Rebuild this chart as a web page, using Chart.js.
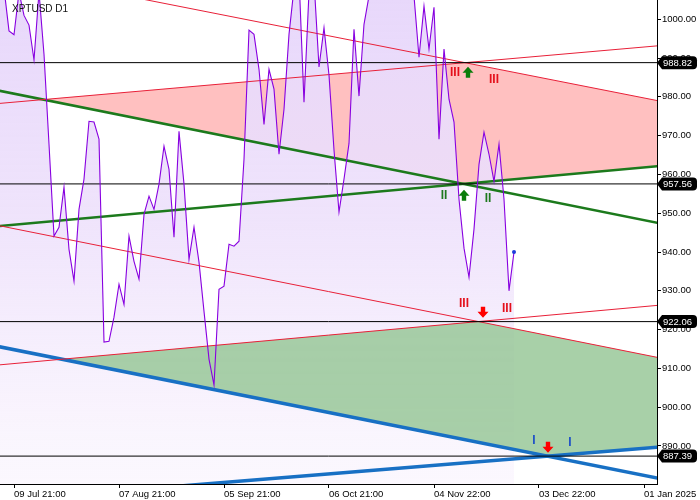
<!DOCTYPE html>
<html>
<head>
<meta charset="utf-8">
<script src="https://cdn.jsdelivr.net/npm/chart.js"></script>
<style>
  body { margin: 0; background: #fff; }
</style>
</head>
<body>
<canvas id="xpt" width="700" height="500"></canvas>
<script>
// XPTUSD D1 closes, one per bar. bar 0 = 09 Jul, bar 100 = last bar
var firstBar = -3;
var closes = [
  1012, 1008, 997, 996, 1007, 1001, 998.5, 989.5, 1007, 991,
  967.8, 944.1, 946.4, 956.7, 940.7, 932.5, 951.0, 958.8, 973.7, 973.5,
  969.1, 916.8, 917.0, 923.2, 931.7, 926.5, 944.1, 937.6, 933.0, 949.7,
  954.4, 951.0, 957.5, 967.3, 961.3, 943.8, 971.1, 957.5, 938.1, 946.4,
  937.4, 924.7, 912.4, 905.7, 930.4, 931.2, 942.0, 941.5, 942.8, 963.9,
  997.2, 996.1, 987.1, 972.9, 987.1, 982.0, 965.2, 976.8, 996.1, 1008,
  1011, 978.6, 1007, 1010, 987.7, 997.8, 985.6, 966.3, 950.3, 958.8,
  968.0, 997.4, 980.2, 998.7, 1006, 1010, 1013, 1016, 1012, 1015,
  1011, 1014, 1009, 1006, 990.2, 1003.4, 992.3, 1003.1, 969.1, 992.3,
  979.4, 973.5, 953.6, 941.0, 933.5, 945.9, 962.6, 970.9, 965.2, 958.2,
  967.8, 953.6, 930.0, 940.0
];

// date labels on the time axis
var tickBars = [0, 21, 42, 63, 84, 105, 126];
var tickLabels = ['09 Jul 21:00', '07 Aug 21:00', '05 Sep 21:00', '06 Oct 21:00', '04 Nov 22:00', '03 Dec 22:00', '01 Jan 2025'];
var priceTicks = [890, 900, 910, 920, 930, 940, 950, 960, 970, 980, 990, 1000];

// trend lines: price at bar -3 and at bar 130
var lineX = [-3, 130];
var redA = [1012.5, 978.7];
var redB = [978.3, 993.3];
var greenC = [981.6, 947.2];
var greenD = [946.7, 962.3];
var redE = [946.8, 912.5];
var redF = [910.9, 926.4];
var blueG = [915.6, 881.4];
var blueH = [875.9, 889.8];

// horizontal levels (where each pair meets)
var levels = [988.82, 957.56, 922.06, 887.39];

// wave marks and arrows
var markText = ['III', 'III', 'II', 'II', 'III', 'III', 'I', 'I'];
var markBar = [88.2, 96, 86, 94.8, 90, 98.6, 104, 111.2];
var markPrice = [986.2, 984.4, 954.5, 953.7, 926.6, 925.3, 891.3, 890.8];
var arrowBar = [90.8, 90, 93.8, 106.8];
var arrowPrice = [986.2, 954.5, 924.6, 889.8];
var arrowDir = ['up', 'up', 'down', 'down'];

var pricePts = closes.map(function (v, i) { return {x: firstBar + i, y: v}; });

function seg(l) {
  return [{x: lineX[0], y: l[0]}, {x: lineX[1], y: l[1]}];
}
function cross(l1, l2) {
  var d0 = l1[0] - l2[0], d1 = l1[1] - l2[1];
  var t = d0 / (d0 - d1);
  return {x: lineX[0] + t * (lineX[1] - lineX[0]), y: l1[0] + t * (l1[1] - l1[0])};
}
function envelope(l1, l2, pick) {
  return [{x: lineX[0], y: Math[pick](l1[0], l2[0])}, cross(l1, l2), {x: lineX[1], y: Math[pick](l1[1], l2[1])}];
}

var ds = [];
// 0,1: red zone between the red pair and the green pair
ds.push({data: envelope(redA, redB, 'min'), borderWidth: 0, pointRadius: 0, order: 20,
  backgroundColor: 'rgb(255,192,192)',
  fill: {target: 1, above: 'rgb(255,192,192)', below: 'rgba(0,0,0,0)'}});
ds.push({data: envelope(greenC, greenD, 'max'), borderWidth: 0, pointRadius: 0, fill: false, order: 20});
// 2: price area
ds.push({data: pricePts, borderWidth: 0, pointRadius: 0, order: 15, fill: 'start',
  backgroundColor: function (ctx) {
    var area = ctx.chart.chartArea;
    if (!area) return 'rgba(232,216,250,0.8)';
    var g = ctx.chart.ctx.createLinearGradient(0, area.top, 0, area.bottom);
    g.addColorStop(0, 'rgba(232,216,251,1)');
    g.addColorStop(0.45, 'rgba(237,224,251,0.88)');
    g.addColorStop(1, 'rgba(243,232,252,0.3)');
    return g;
  }});
// 3,4: green zone between the red pair and the blue pair
ds.push({data: envelope(redE, redF, 'min'), borderWidth: 0, pointRadius: 0, order: 12,
  backgroundColor: 'rgba(153,200,153,0.85)',
  fill: {target: 4, above: 'rgba(153,200,153,0.85)', below: 'rgba(0,0,0,0)'}});
ds.push({data: envelope(blueG, blueH, 'max'), borderWidth: 0, pointRadius: 0, fill: false, order: 12});

// trend lines
var trend = [
  [redA, 'rgb(232,32,56)', 1], [redB, 'rgb(232,32,56)', 1],
  [redE, 'rgb(232,32,56)', 1], [redF, 'rgb(232,32,56)', 1],
  [greenC, 'rgb(28,122,28)', 2.5], [greenD, 'rgb(28,122,28)', 2.5],
  [blueG, 'rgb(24,112,196)', 3.5], [blueH, 'rgb(24,112,196)', 3.5]
];
trend.forEach(function (t) {
  ds.push({data: seg(t[0]), borderColor: t[1], borderWidth: t[2], pointRadius: 0, fill: false, order: 6});
});
levels.forEach(function (lv) {
  ds.push({data: seg([lv, lv]), borderColor: '#000', borderWidth: 1, pointRadius: 0, fill: false, order: 5});
});
// price line on top
ds.push({data: pricePts, borderColor: 'rgb(136,0,224)', borderWidth: 1.1, fill: false, order: 1,
  pointRadius: function (ctx) { return ctx.dataIndex === closes.length - 1 ? 2 : 0; },
  pointBackgroundColor: 'rgb(30,60,220)', pointBorderWidth: 0});

ds.forEach(function (d) { d.clip = 0; d.tension = 0; });

var marksPlugin = {
  id: 'marks',
  afterDatasetsDraw: function (chart) {
    var c = chart.ctx, xs = chart.scales.x, ys = chart.scales.y;
    var colors = {'III': 'rgb(228,16,28)', 'II': 'rgb(30,120,30)', 'I': 'rgb(30,80,200)'};
    c.save();
    c.font = 'bold 12px "Liberation Sans"';
    c.textAlign = 'center';
    c.textBaseline = 'middle';
    for (var i = 0; i < markText.length; i++) {
      c.fillStyle = colors[markText[i]];
      c.fillText(markText[i], xs.getPixelForValue(markBar[i]), ys.getPixelForValue(markPrice[i]));
    }
    for (var j = 0; j < arrowBar.length; j++) {
      var x = xs.getPixelForValue(arrowBar[j]), y = ys.getPixelForValue(arrowPrice[j]);
      var s = arrowDir[j] === 'up' ? 1 : -1;
      c.fillStyle = s > 0 ? 'rgb(10,125,10)' : 'rgb(255,0,0)';
      c.beginPath();
      c.moveTo(x, y - 6 * s);
      c.lineTo(x + 5.5, y);
      c.lineTo(x + 2.2, y);
      c.lineTo(x + 2.2, y + 5 * s);
      c.lineTo(x - 2.2, y + 5 * s);
      c.lineTo(x - 2.2, y);
      c.lineTo(x - 5.5, y);
      c.closePath();
      c.fill();
    }
    c.restore();
  },
  afterDraw: function (chart) {
    var c = chart.ctx, ys = chart.scales.y, x = chart.chartArea.right;
    c.save();
    c.font = '9.5px "Liberation Sans"';
    c.textBaseline = 'middle';
    levels.forEach(function (lv) {
      var y = ys.getPixelForValue(lv);
      c.fillStyle = '#000';
      c.beginPath();
      c.moveTo(x, y);
      c.lineTo(x + 5, y - 6.5);
      c.lineTo(x + 36, y - 6.5);
      c.quadraticCurveTo(x + 40, y - 6.5, x + 40, y - 2.5);
      c.lineTo(x + 40, y + 2.5);
      c.quadraticCurveTo(x + 40, y + 6.5, x + 36, y + 6.5);
      c.lineTo(x + 5, y + 6.5);
      c.closePath();
      c.fill();
      c.fillStyle = '#fff';
      c.fillText(lv.toFixed(2), x + 6, y + 0.5);
    });
    c.fillStyle = '#111';
    c.font = '10px "Liberation Sans"';
    c.fillText('XPTUSD D1', 12, 9);
    c.restore();
  }
};

new Chart(document.getElementById('xpt'), {
  type: 'line',
  data: {datasets: ds},
  plugins: [marksPlugin],
  options: {
    responsive: false,
    animation: false,
    events: [],
    layout: {padding: 0, autoPadding: false},
    plugins: {legend: {display: false}, tooltip: {enabled: false}},
    scales: {
      x: {
        type: 'linear', position: 'bottom', min: -2.8, max: 128.6,
        grid: {drawOnChartArea: false, tickLength: 4, color: '#000'},
        border: {color: '#000'},
        ticks: {align: 'start', padding: 1, maxRotation: 0, autoSkip: false, color: '#000',
          font: {family: 'Liberation Sans', size: 9.5},
          callback: function (v) { var k = tickBars.indexOf(v); return k < 0 ? '' : tickLabels[k]; }},
        afterBuildTicks: function (axis) { axis.ticks = tickBars.map(function (b) { return {value: b}; }); },
        afterFit: function (axis) { axis.height = 16; axis.paddingLeft = 0; axis.paddingRight = 0; }
      },
      y: {
        type: 'linear', position: 'right', min: 880.2, max: 1004.97,
        grid: {drawOnChartArea: false, tickLength: 4, color: '#000'},
        border: {color: '#000'},
        ticks: {padding: 1, color: '#000', font: {family: 'Liberation Sans', size: 9.5},
          callback: function (v) { return v.toFixed(2); }},
        afterBuildTicks: function (axis) { axis.ticks = priceTicks.map(function (p) { return {value: p}; }); },
        afterFit: function (axis) { axis.width = 43; axis.paddingTop = 0; axis.paddingBottom = 0; }
      }
    }
  }
});
</script>
</body>
</html>
